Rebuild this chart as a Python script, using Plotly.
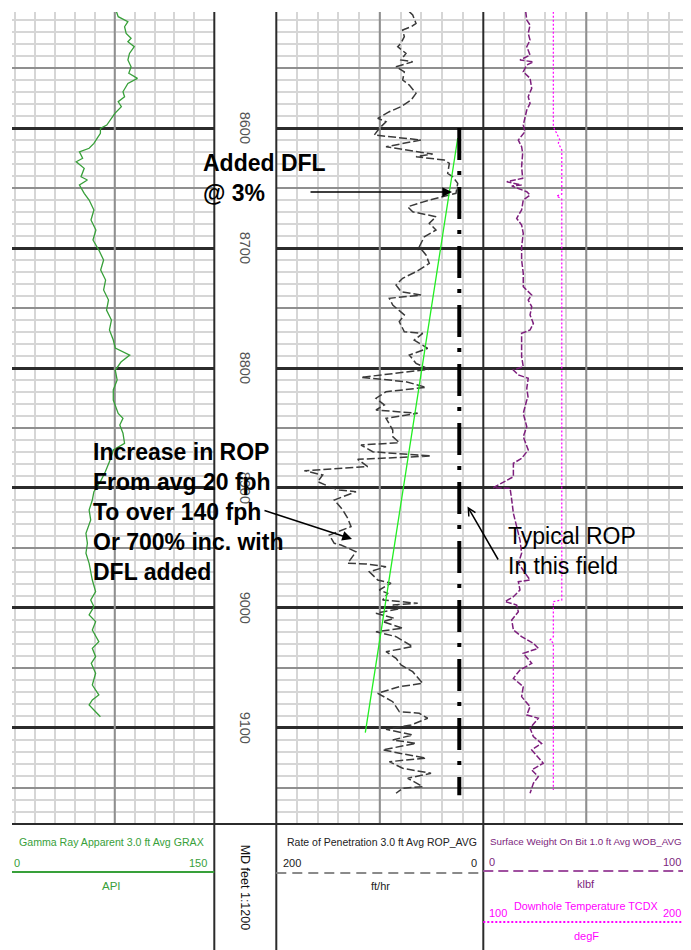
import plotly.graph_objects as go

W, H = 691, 950          # reference canvas
OFF = 8                  # page body margin that offsets the figure
FW, FH = W - OFF, H - OFF

# ---------------- data ----------------
gr_depth = [8503.1, 8507.2, 8511.4, 8515.6, 8521.1, 8525.2, 8528.1, 8532.2, 8537.8, 8543.3,
            8548.9, 8554.4, 8558.6, 8562.8, 8569.8, 8573.9, 8578.1, 8582.2, 8587.8, 8591.9,
            8597.5, 8600.3, 8604.4, 8608.6, 8612.8, 8616.9, 8619.8, 8625.2, 8628.1, 8633.6,
            8640.6, 8643.3, 8647.5, 8654.4, 8660.0, 8668.3, 8676.7, 8685.0, 8693.3, 8701.7,
            8710.0, 8718.3, 8726.7, 8735.0, 8743.3, 8751.7, 8760.0, 8768.3, 8776.7, 8783.3,
            8789.2, 8795.0, 8801.7, 8810.0, 8818.3, 8826.7, 8837.8, 8841.9, 8847.5, 8854.4,
            8862.8, 8868.3, 8876.7, 8886.4, 8894.7, 8903.1, 8910.0, 8918.3, 8926.7, 8937.8,
            8946.1, 8954.4, 8962.8, 8976.7, 8986.4, 8993.3, 8998.9, 9005.8, 9011.4, 9018.3,
            9028.1, 9033.6, 9040.6, 9046.1, 9054.4, 9064.2, 9072.5, 9076.7, 9080.8, 9085.0,
            9090.6]
gr_api = [76.3, 77.6, 84.9, 82.4, 83.6, 87.3, 84.9, 89.7, 86.1, 84.9,
          87.3, 85.6, 92.1, 84.9, 81.2, 82.4, 77.6, 80.0, 75.1, 72.7,
          69.0, 64.2, 64.2, 61.7, 59.3, 55.7, 48.4, 50.8, 46.0, 52.0,
          49.6, 54.4, 48.4, 52.0, 55.7, 59.3, 57.1, 60.8, 58.6, 63.0,
          66.6, 64.4, 68.1, 66.6, 70.3, 68.8, 72.5, 71.0, 73.9, 75.4,
          86.3, 79.7, 75.4, 76.8, 73.9, 73.9, 77.6, 81.2, 78.8, 81.2,
          82.4, 73.9, 71.5, 67.9, 64.2, 59.3, 58.1, 55.7, 56.9, 53.3,
          54.4, 53.3, 55.7, 58.1, 60.6, 56.9, 59.3, 55.7, 60.6, 58.1,
          63.0, 58.1, 60.6, 57.3, 60.6, 58.1, 63.0, 58.1, 55.7, 59.3,
          64.2]

rop_depth = [8503.0, 8505.8, 8512.8, 8515.6, 8518.3, 8523.9, 8529.2, 8532.2, 8537.8, 8543.3,
             8544.8, 8548.9, 8553.1, 8560.0, 8564.2, 8571.1, 8576.7, 8582.2, 8586.4, 8591.9,
             8594.8, 8600.3, 8605.8, 8610.0, 8615.6, 8621.7, 8623.9, 8626.7, 8629.4, 8637.8,
             8640.6, 8646.1, 8654.4, 8660.0, 8665.6, 8669.8, 8673.9, 8679.4, 8685.0, 8690.6,
             8698.9, 8705.8, 8712.8, 8719.8, 8725.2, 8730.8, 8736.4, 8739.2, 8741.9, 8747.5,
             8755.8, 8761.4, 8769.8, 8771.1, 8776.7, 8783.6, 8789.2, 8796.1, 8801.1, 8807.8,
             8811.4, 8816.1, 8819.8, 8825.2, 8830.8, 8835.0, 8837.8, 8841.9, 8851.7, 8857.2,
             8862.2, 8864.2, 8869.8, 8873.3, 8876.1, 8882.2, 8885.6, 8889.2, 8894.7, 8898.9,
             8901.7, 8903.1, 8910.0, 8918.3, 8925.2, 8932.2, 8939.2, 8946.1, 8947.5, 8953.1,
             8962.8, 8963.3, 8965.6, 8969.8, 8976.7, 8979.4, 8985.0, 8987.8, 8993.3, 8996.1,
             8997.5, 9000.2, 9004.4, 9008.6, 9011.4, 9016.9, 9019.8, 9023.9, 9032.2, 9036.4,
             9041.9, 9047.5, 9053.1, 9062.8, 9065.6, 9071.1, 9078.1, 9086.4, 9087.8, 9091.9,
             9097.5, 9101.1, 9105.8, 9110.0, 9112.8, 9118.3, 9125.2, 9128.1, 9133.6, 9137.8,
             9141.9, 9148.9, 9150.2, 9154.4]
rop_fph = [71.5, 68.2, 65.0, 69.8, 77.9, 76.3, 79.5, 82.7, 74.7, 79.5,
           68.2, 84.3, 76.3, 77.9, 71.5, 65.0, 69.8, 79.5, 90.8, 102.0,
           94.0, 100.5, 105.3, 60.2, 94.0, 48.9, 65.0, 37.7, 32.8, 34.4,
           29.6, 24.7, 26.4, 52.2, 73.0, 68.2, 45.7, 52.2, 45.7, 57.0,
           61.8, 55.4, 52.2, 65.0, 77.9, 84.3, 79.5, 60.2, 90.8, 87.5,
           76.3, 81.2, 76.3, 58.5, 66.7, 53.7, 71.5, 65.0, 52.2, 118.2,
           74.7, 55.4, 94.0, 103.7, 95.6, 103.7, 63.4, 94.0, 87.5, 87.5,
           81.2, 118.2, 106.9, 50.5, 121.4, 111.7, 172.9, 155.2, 160.0, 148.8,
           139.1, 123.0, 144.0, 135.8, 131.0, 127.8, 148.8, 144.0, 137.5, 123.0,
           131.0, 113.3, 94.0, 110.1, 102.0, 89.2, 100.5, 92.4, 97.2, 63.4,
           87.5, 77.9, 103.7, 86.0, 97.2, 77.9, 103.7, 84.3, 68.2, 94.0,
           84.3, 79.5, 68.2, 58.5, 81.2, 102.0, 87.5, 81.2, 61.8, 53.7,
           69.8, 94.0, 68.2, 87.5, 65.0, 97.2, 55.4, 90.8, 77.9, 50.5,
           73.0, 58.5, 77.9, 84.3]

wob_depth = [8503.1, 8510.0, 8514.2, 8521.1, 8526.7, 8532.2, 8539.2, 8543.3, 8544.8, 8547.5,
             8553.1, 8558.6, 8566.9, 8573.9, 8579.4, 8585.0, 8597.5, 8603.1, 8610.0, 8615.6,
             8621.1, 8632.2, 8641.9, 8644.8, 8647.5, 8648.3, 8653.1, 8655.8, 8660.0, 8668.3,
             8675.3, 8680.8, 8687.8, 8698.9, 8710.0, 8721.1, 8732.2, 8739.2, 8743.3, 8748.9,
             8755.8, 8762.8, 8768.3, 8771.1, 8779.4, 8790.6, 8798.9, 8801.7, 8805.8, 8808.6,
             8816.9, 8825.2, 8826.7, 8837.8, 8848.9, 8857.2, 8868.3, 8875.3, 8879.4, 8890.6,
             8899.7, 8900.2, 8910.0, 8921.1, 8932.2, 8943.3, 8954.4, 8962.8, 8976.7, 8978.1,
             8985.0, 8990.6, 8994.7, 8997.5, 9003.1, 9010.0, 9018.3, 9023.9, 9029.4, 9033.6,
             9037.8, 9046.1, 9051.7, 9058.6, 9065.6, 9073.9, 9082.2, 9089.2, 9091.9, 9100.2,
             9107.2, 9112.8, 9118.3, 9125.2, 9129.4, 9135.0, 9140.6, 9146.1, 9154.4]
wob_klbf = [20.6, 21.1, 22.7, 21.8, 22.7, 21.1, 22.7, 17.8, 24.3, 21.1,
            19.4, 22.7, 23.5, 21.8, 22.7, 21.1, 19.4, 20.2, 17.0, 18.6,
            19.1, 18.6, 19.1, 11.4, 18.6, 13.8, 21.1, 22.7, 19.4, 18.6,
            16.2, 18.6, 19.4, 18.6, 18.6, 19.4, 19.4, 23.5, 21.8, 23.5,
            22.7, 24.3, 22.7, 18.6, 18.6, 18.6, 19.4, 14.6, 17.0, 21.8,
            21.1, 21.8, 21.1, 19.4, 21.1, 19.4, 21.8, 18.6, 14.6, 14.6,
            4.9, 13.0, 13.8, 14.6, 16.2, 17.8, 18.6, 17.0, 22.7, 17.0,
            17.8, 14.6, 10.5, 16.2, 17.0, 13.8, 14.6, 18.6, 24.3, 26.7,
            19.4, 23.5, 17.8, 14.6, 19.4, 18.6, 22.7, 21.1, 26.7, 22.7,
            24.3, 28.3, 23.5, 26.7, 29.1, 23.5, 26.7, 24.3, 22.7]

temp_depth = [8503.1, 8598.9, 8604.4, 8610.0, 8612.5, 8618.3, 8655.0, 8656.7, 8659.2,
              8993.3, 8994.7, 9023.9, 9026.7, 9029.2, 9151.7]
temp_degf = [134.0, 134.0, 135.6, 137.2, 136.4, 138.1, 138.1, 135.6, 138.1,
             138.1, 134.0, 134.0, 132.4, 134.0, 134.0]

trend_depth = [8608.3, 9103.9]
trend_rop = [24.7, 114.0]

typical_depth = [8600.0, 9156.0]
typical_rop = [23.2, 23.2]

depth_labels = [8600, 8700, 8800, 8900, 9000, 9100]

DEPTH_TOP, DEPTH_BOT = 8503.3, 9179.2

# ---------------- geometry helpers (reference pixels -> paper) ----------------
def px(x):
    return (x - OFF) / FW

def py(y):
    return 1 - (y - OFF) / FH

PLOT_TOP, PLOT_BOT = 12, 823
GR_L, GR_R = 12, 214.3
DEP_L, DEP_R = 214.3, 276.3
ROP_L, ROP_R = 276.3, 483.3
WOB_L, WOB_R = 483.3, 689.3

LIGHT = "#d6d6d6"
MED = "#8f8f8f"
DARK = "#2b2b2b"
GREEN = "#38a03a"
PURPLE = "#7d1f7d"
MAGENTA = "#ff00ff"
NARROW = "Liberation Sans Narrow, Arial Narrow, Liberation Sans, sans-serif"
ARIAL = "Liberation Sans, Arial, sans-serif"

gr_range = [-(GR_L - 8.7) / (GR_R - 8.7) * 150, 150]
rop_range = [200, 0]
wob_range = [0, 100]

fig = go.Figure()

# medium (50 ft) grid lines and medium centre lines of each track
for xr, yr, rng, mid in (("x", "y", gr_range, 75), ("x2", "y2", rop_range, 100),
                         ("x3", "y3", wob_range, 50)):
    gx, gy = [], []
    for d in range(8550, 9180, 100):
        gx += [rng[0], rng[1], None]
        gy += [d, d, None]
    gx += [mid, mid, None]
    gy += [DEPTH_TOP, DEPTH_BOT, None]
    fig.add_trace(go.Scatter(x=gx, y=gy, xaxis=xr, yaxis=yr, mode="lines",
                             line=dict(color=MED, width=2), hoverinfo="skip"))

fig.add_trace(go.Scatter(x=gr_api, y=gr_depth, xaxis="x", yaxis="y", mode="lines",
                         line=dict(color=GREEN, width=1.3), hoverinfo="skip"))
fig.add_trace(go.Scatter(x=rop_fph, y=rop_depth, xaxis="x2", yaxis="y2", mode="lines",
                         line=dict(color="#3a3a3a", width=1.5, dash="8px,3px"), hoverinfo="skip"))
fig.add_trace(go.Scatter(x=trend_rop, y=trend_depth, xaxis="x2", yaxis="y2", mode="lines",
                         line=dict(color="#22ee22", width=1.3), hoverinfo="skip"))
fig.add_trace(go.Scatter(x=typical_rop, y=typical_depth, xaxis="x2", yaxis="y2", mode="lines",
                         line=dict(color="black", width=4, dash="32px,11px,4px,12px"),
                         hoverinfo="skip"))
fig.add_trace(go.Scatter(x=wob_klbf, y=wob_depth, xaxis="x3", yaxis="y3", mode="lines",
                         line=dict(color=PURPLE, width=1.5, dash="6px,2px"), hoverinfo="skip"))
fig.add_trace(go.Scatter(x=temp_degf, y=temp_depth, xaxis="x4", yaxis="y3", mode="lines",
                         line=dict(color=MAGENTA, width=1.2, dash="2px,2px"), hoverinfo="skip"))

ydom = [py(PLOT_BOT), py(PLOT_TOP)]
yax = dict(domain=ydom, range=[DEPTH_BOT, DEPTH_TOP], tick0=8500, dtick=100,
           showgrid=True, gridcolor=DARK, gridwidth=2.5, showticklabels=False,
           zeroline=False, ticks="",
           minor=dict(tick0=8500, dtick=10, showgrid=True, gridcolor=LIGHT, gridwidth=2))
xax = dict(showgrid=True, gridcolor=LIGHT, gridwidth=1.5, showticklabels=False,
           zeroline=False, ticks="")

fig.update_layout(
    width=FW, height=FH, margin=dict(l=0, r=0, t=0, b=0),
    paper_bgcolor="white", plot_bgcolor="white", showlegend=False,
    xaxis=dict(xax, domain=[px(GR_L), px(GR_R)], range=gr_range, tick0=0, dtick=15, anchor="y"),
    yaxis=dict(yax, anchor="x"),
    xaxis2=dict(xax, domain=[px(ROP_L), px(ROP_R)], range=rop_range, tick0=0, dtick=20, anchor="y2"),
    yaxis2=dict(yax, anchor="x2", matches="y"),
    xaxis3=dict(xax, domain=[px(WOB_L), min(1.0, px(WOB_R))], range=wob_range, tick0=0, dtick=10, anchor="y3"),
    yaxis3=dict(yax, anchor="x3", matches="y"),
    xaxis4=dict(overlaying="x3", range=[100, 200], visible=False, anchor="y3"),
)

shapes = []
# track borders
for xb in (DEP_L, DEP_R, ROP_R):
    shapes.append(dict(type="line", xref="paper", yref="paper", x0=px(xb), x1=px(xb),
                       y0=py(PLOT_TOP), y1=0, line=dict(color=DARK, width=2)))
# header separator
shapes.append(dict(type="line", xref="paper", yref="paper", x0=px(GR_L), x1=1,
                   y0=py(824), y1=py(824), line=dict(color=DARK, width=2)))
# header scale lines
shapes.append(dict(type="line", xref="paper", yref="paper", x0=px(GR_L), x1=px(GR_R),
                   y0=py(872), y1=py(872), line=dict(color=GREEN, width=2)))
shapes.append(dict(type="line", xref="paper", yref="paper", x0=px(ROP_L), x1=px(ROP_R),
                   y0=py(873), y1=py(873), line=dict(color="#8a8a8a", width=2, dash="10px,6px")))
shapes.append(dict(type="line", xref="paper", yref="paper", x0=px(WOB_L), x1=1,
                   y0=py(871), y1=py(871), line=dict(color="#a050a0", width=2, dash="10px,5px")))
shapes.append(dict(type="line", xref="paper", yref="paper", x0=px(WOB_L), x1=1,
                   y0=py(922), y1=py(922), line=dict(color=MAGENTA, width=2, dash="2px,2px")))
fig.update_layout(shapes=shapes)

ann = []

def txt(text, x, y, size, color, family=NARROW, xanchor="center", angle=0):
    ann.append(dict(text=text, x=px(x), y=py(y),
                    xref="paper", yref="paper", xanchor=xanchor, yanchor="middle",
                    showarrow=False, textangle=angle,
                    font=dict(size=size, color=color, family=family)))

# depth labels
for d in depth_labels:
    ann.append(dict(text=str(d), x=px((DEP_L + DEP_R) / 2), xref="paper", y=d, yref="y",
                    showarrow=False, textangle=90, xanchor="center", yanchor="middle",
                    font=dict(size=14.5, color="#555555", family=ARIAL)))

# header texts
txt("Gamma Ray Apparent 3.0 ft Avg GRAX", 111.5, 842, 10.6, GREEN)
txt("0", 12, 863, 11, GREEN, xanchor="left")
txt("150", 209, 863, 11, GREEN, xanchor="right")
txt("API", 111.5, 886, 11.5, GREEN)
txt("MD feet 1:1200", 245.3, 888, 12.5, "#111111", angle=90)
txt("Rate of Penetration 3.0 ft Avg ROP_AVG", 382, 842, 10.5, "#222222")
txt("200", 281, 863, 11, "#222222", xanchor="left")
txt("0", 479, 863, 11, "#222222", xanchor="right")
txt("ft/hr", 380, 886, 11, "#222222")
txt("Surface Weight On Bit 1.0 ft Avg WOB_AVG", 586, 841, 9.8, PURPLE)
txt("0", 487, 862, 11, PURPLE, xanchor="left")
txt("100", 683, 862, 11, PURPLE, xanchor="right")
txt("klbf", 586, 884, 11, PURPLE)
txt("Downhole Temperature TCDX", 586, 906, 10.8, MAGENTA)
txt("100", 487, 913, 11, MAGENTA, xanchor="left")
txt("200", 683, 913, 11, MAGENTA, xanchor="right")
txt("degF", 586, 936, 11, MAGENTA)

# callouts
ann.append(dict(text="<b>Added DFL<br>@ 3%</b>", x=px(201), y=py(178), xref="paper", yref="paper",
                xanchor="left", yanchor="middle", align="left", showarrow=False,
                font=dict(size=23, color="black", family=ARIAL)))
ann.append(dict(text="<b>Increase in ROP<br>From avg 20 fph<br>To over 140 fph<br>Or 700% inc. with<br>DFL added</b>",
                x=px(91), y=py(512), xref="paper", yref="paper",
                xanchor="left", yanchor="middle", align="left", showarrow=False,
                font=dict(size=23, color="black", family=ARIAL)))
ann.append(dict(text="Typical ROP<br>In this field", x=px(506), y=py(551), xref="paper", yref="paper",
                xanchor="left", yanchor="middle", align="left", showarrow=False,
                font=dict(size=23, color="black", family=ARIAL)))

# arrows (head at x,y; tail offset in pixels)
def arrow(hx, hy, tx, ty, head, size):
    ann.append(dict(text="", x=px(hx), y=py(hy), xref="paper", yref="paper",
                    ax=tx - hx, ay=ty - hy, showarrow=True, arrowhead=head,
                    arrowsize=size, arrowwidth=1.5, arrowcolor="black", standoff=0))

arrow(452, 192, 309, 192, 2, 1.3)
arrow(352, 539, 263, 510, 2, 1.3)
arrow(467.5, 506.5, 499, 561, 5, 1.0)

fig.update_layout(annotations=ann)

fig.write_html("out.html")
